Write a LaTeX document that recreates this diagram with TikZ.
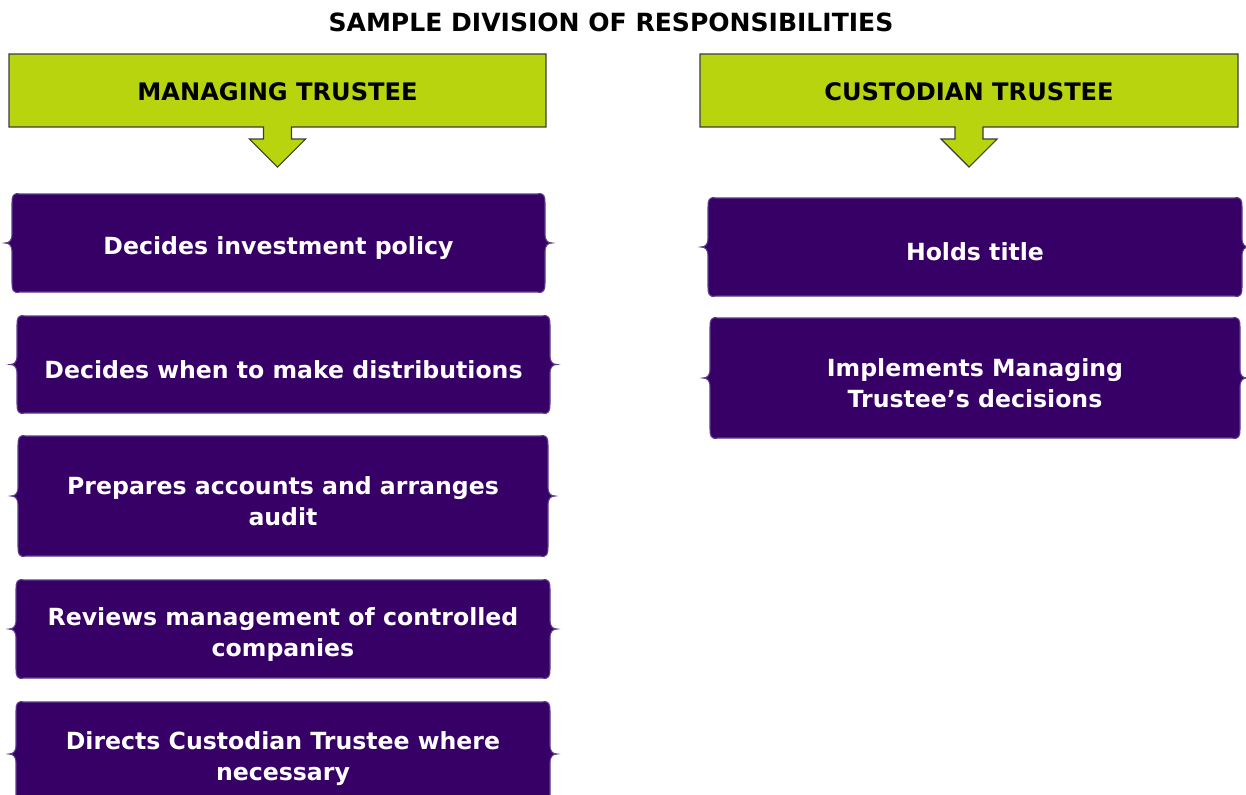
\documentclass[tikz,border=0pt]{standalone}
\usepackage{fontspec}
\setmainfont{DejaVu Sans}
\definecolor{tpurple}{HTML}{370066}
\definecolor{tpedge}{HTML}{5E3E8E}
\definecolor{tgreen}{HTML}{B8D40E}
\definecolor{tgedge}{HTML}{3C3C3C}
\tikzset{
  itemtext/.style={text=white, font=\bfseries\fontsize{17.7}{23.25}\selectfont, align=center, inner sep=0pt},
  headtext/.style={text=black, font=\bfseries\fontsize{18.1}{21}\selectfont, inner sep=0pt},
  itembox/.style={fill=tpurple, draw=tpedge, line width=0.8pt},
  headbox/.style={fill=tgreen, draw=tgedge, line width=0.8pt},
}
% name, x1, y1, x2, y2, text
\newcommand\bracebox[6]{%
  \path[itembox]
    ({#2+8},#3) -- ({#4-8},#3)
    .. controls ({#4-1},{#3-1.5}) and (#4,{#3+2}) .. (#4,{#3+9})
    -- (#4,{(#3+#5)/2-9})
    .. controls (#4,{(#3+#5)/2-2}) and ({#4+3},{(#3+#5)/2}) .. ({#4+7},{(#3+#5)/2})
    .. controls ({#4+3},{(#3+#5)/2}) and (#4,{(#3+#5)/2+2}) .. (#4,{(#3+#5)/2+9})
    -- (#4,{#5-9})
    .. controls (#4,{#5-2}) and ({#4-1},{#5+1.5}) .. ({#4-8},#5)
    -- ({#2+8},#5)
    .. controls ({#2+1},{#5+1.5}) and (#2,{#5-2}) .. (#2,{#5-9})
    -- (#2,{(#3+#5)/2+9})
    .. controls (#2,{(#3+#5)/2+2}) and ({#2-3},{(#3+#5)/2}) .. ({#2-7},{(#3+#5)/2})
    .. controls ({#2-3},{(#3+#5)/2}) and (#2,{(#3+#5)/2-2}) .. (#2,{(#3+#5)/2-9})
    -- (#2,{#3+9})
    .. controls (#2,{#3+2}) and ({#2+1},{#3-1.5}) .. ({#2+8},#3) -- cycle;
  \node[itemtext] (#1) at ({(#2+#4)/2},{(#3+#5)/2+5}) {#6};
}
% name, x1, x2, text
\newcommand\greenhead[4]{%
  \path[headbox]
    (#2,54) -- (#3,54) -- (#3,127)
    -- ({(#2+#3)/2+14},127) -- ({(#2+#3)/2+14},139) -- ({(#2+#3)/2+28},139)
    -- ({(#2+#3)/2},167)
    -- ({(#2+#3)/2-28},139) -- ({(#2+#3)/2-14},139) -- ({(#2+#3)/2-14},127)
    -- (#2,127) -- cycle;
  \node[headtext] (#1) at ({(#2+#3)/2},92) {#4};
}
\begin{document}
\begin{tikzpicture}[x=0.75pt,y=-0.75pt]
\useasboundingbox (0,0) rectangle (1246,794);
\clip (0,0) rectangle (1246,794);
\node[font=\bfseries\fontsize{18.8}{21}\selectfont, inner sep=0pt] (title) at (611,22) {SAMPLE DIVISION OF RESPONSIBILITIES};
\greenhead{mt}{9}{546}{MANAGING TRUSTEE}
\greenhead{ct}{700}{1238}{CUSTODIAN TRUSTEE}
\bracebox{l1}{12}{194}{545}{292}{Decides investment policy}
\bracebox{l2}{17}{316}{550}{413}{Decides when to make distributions}
\bracebox{l3}{18}{436}{548}{556}{Prepares accounts and arranges\\audit}
\bracebox{l4}{16}{580}{550}{678}{Reviews management of controlled\\companies}
\bracebox{l5}{16}{702}{550}{806}{Directs Custodian Trustee where\\necessary}
\bracebox{r1}{708}{198}{1242}{296}{Holds title}
\bracebox{r2}{710}{318}{1240}{438}{Implements Managing\\Trustee’s decisions}
\end{tikzpicture}
\end{document}
